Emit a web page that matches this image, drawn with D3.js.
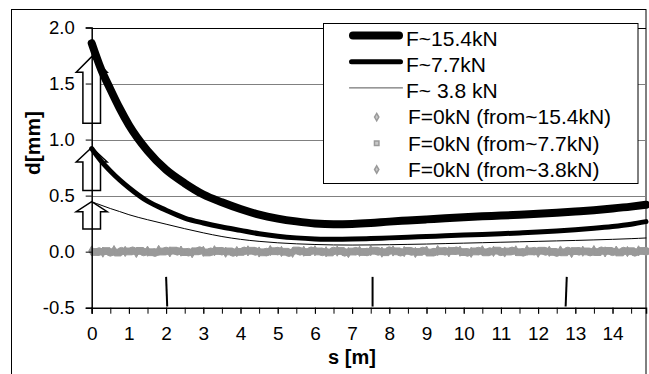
<!DOCTYPE html>
<html>
<head>
<meta charset="utf-8">
<script src="https://cdn.jsdelivr.net/npm/d3@7"></script>
<style>
  body { margin: 0; background: #fff; }
  text { font-family: "Liberation Sans", Arial, sans-serif; fill: #000; }
</style>
</head>
<body>
<div id="chart"></div>
<script>
// deflection d [mm] along s [m]
const sCurve = [0, 0.25, 0.5, 0.75, 1, 1.5, 2, 2.5, 3, 3.5, 4, 4.5, 5, 5.5, 6, 6.5, 7, 7.5, 8, 8.5, 9, 9.5, 10, 10.5, 11, 11.5, 12, 12.5, 13, 13.5, 14, 14.5, 14.9];
const d154 = [1.86, 1.63, 1.45, 1.28, 1.13, 0.9, 0.73, 0.61, 0.51, 0.44, 0.38, 0.33, 0.295, 0.27, 0.252, 0.245, 0.247, 0.255, 0.268, 0.278, 0.288, 0.298, 0.307, 0.315, 0.322, 0.33, 0.338, 0.347, 0.358, 0.37, 0.385, 0.402, 0.418];
const d77 = [0.92, 0.81, 0.72, 0.64, 0.57, 0.45, 0.37, 0.30, 0.256, 0.22, 0.19, 0.16, 0.138, 0.123, 0.114, 0.11, 0.112, 0.117, 0.123, 0.129, 0.135, 0.142, 0.148, 0.154, 0.16, 0.167, 0.175, 0.184, 0.195, 0.208, 0.224, 0.245, 0.268];
const d38 = [0.445, 0.415, 0.385, 0.358, 0.33, 0.285, 0.245, 0.205, 0.168, 0.135, 0.11, 0.092, 0.079, 0.07, 0.064, 0.06, 0.059, 0.06, 0.062, 0.065, 0.068, 0.072, 0.076, 0.08, 0.084, 0.088, 0.092, 0.096, 0.1, 0.105, 0.11, 0.116, 0.122];

// unloaded readings (F=0kN), sampled every 0.3 m, offset per series
const z154 = [0.006,-0.004,0.009,0.002,-0.007,0.004,0.011,-0.002,0.005,-0.009,
              0.003,0.008,-0.005,0.001,0.007,-0.003,0.010,0.002,-0.006,0.004,
              0.008,-0.001,0.005,-0.008,0.003,0.009,-0.004,0.006,0.001,-0.007,
              0.005,0.010,-0.002,0.004,-0.006,0.008,0.002,-0.003,0.007,0.011,
              -0.005,0.003,0.006,-0.008,0.004,0.009,-0.002,0.005,0.001,0.007];
const z77 = [-0.003,0.005,-0.008,0.002,0.007,-0.005,0.001,0.009,-0.004,0.003,
             -0.007,0.006,0.002,-0.002,0.008,-0.006,0.004,-0.001,0.010,-0.004,
             0.002,-0.007,0.006,0.001,-0.003,0.008,-0.005,0.003,0.007,-0.002,
             -0.008,0.004,0.006,-0.004,0.002,-0.006,0.009,0.001,-0.005,0.003,
             0.008,-0.002,-0.006,0.005,0.002,-0.004,0.007,-0.007,0.004,0.006];
const z38 = [0.001,-0.006,0.004,0.008,-0.003,-0.008,0.006,0.003,-0.005,0.009,
             -0.001,0.004,-0.007,0.007,0.002,-0.004,0.005,-0.009,0.003,0.008,
             -0.002,0.006,-0.006,0.004,-0.003,0.002,0.009,-0.005,0.001,0.006,
             -0.004,0.003,0.008,-0.007,0.005,0.001,-0.002,0.007,-0.006,0.004,
             0.002,-0.008,0.006,0.003,-0.004,0.008,-0.001,0.005,-0.006,0.003];
const zOffset = [0, 0.1, 0.2];
const zStep = 0.3;

// block arrows at s=0 (tip, head base, tail in mm)
const arrowTip  = [1.74, 0.93, 0.446];
const arrowHead = [1.60, 0.80, 0.357];
const arrowTail = [1.146, 0.545, 0.203];

// short vertical markers below the curves
const markTop = [2.0, 7.55, 12.77];
const markBot = [2.03, 7.55, 12.74];
const markV = [-0.225, -0.49];

const yTicks = [-0.5, 0, 0.5, 1.0, 1.5, 2.0];
const xTicks = d3.range(0, 15);
const xMinor = d3.range(0, 15, 0.5);
const legendNames = ["F~15.4kN", "F~7.7kN", "F~ 3.8 kN", "F=0kN (from~15.4kN)", "F=0kN (from~7.7kN)", "F=0kN (from~3.8kN)"];

const W = 649, H = 374;
const svg = d3.select("#chart").append("svg").attr("width", W).attr("height", H);

const x = d3.scaleLinear().domain([0, 14.9]).range([91.7, 646]);
const y = d3.scaleLinear().domain([-0.5, 2.0]).range([307.7, 27.5]);

// chart border
svg.append("rect").attr("x", 11.5).attr("y", 9.5).attr("width", 634.5).attr("height", 420)
  .attr("fill", "#fff").attr("stroke", "#000").attr("stroke-width", 1);

// gridlines
svg.append("g").selectAll("line").data([0.5, 1.0, 1.5, 2.0]).join("line")
  .attr("x1", x(0)).attr("x2", x(14.9))
  .attr("y1", d => Math.round(y(d)) + 0.5).attr("y2", d => Math.round(y(d)) + 0.5)
  .attr("stroke", d => d === 2.0 ? "#000" : "#808080").attr("stroke-width", 1);

// unloaded readings
const zSeries = [
  {vals: z154, sym: d3.symbolDiamond, size: 30},
  {vals: z77, sym: d3.symbolSquare, size: 46},
  {vals: z38, sym: d3.symbolCircle, size: 46}
];
zSeries.forEach((ser, k) => {
  svg.append("g").selectAll("path").data(ser.vals).join("path")
    .attr("transform", (d, i) => `translate(${x(zOffset[k] + i * zStep)},${y(d)})`)
    .attr("d", d3.symbol().type(ser.sym).size(ser.size))
    .attr("fill", "#999").attr("stroke", "#999").attr("stroke-width", 1);
});

// block arrows
const headHalf = 15.5, shaftHalf = 8.8;
svg.append("g").selectAll("path").data(arrowTip).join("path")
  .attr("d", (d, i) => {
    const cx = x(0), t = y(d), hb = y(arrowHead[i]), tl = y(arrowTail[i]);
    return `M${cx},${t}L${cx + headHalf},${hb}L${cx + shaftHalf},${hb}L${cx + shaftHalf},${tl}` +
           `L${cx - shaftHalf},${tl}L${cx - shaftHalf},${hb}L${cx - headHalf},${hb}Z`;
  })
  .attr("fill", "#fff").attr("stroke", "#000").attr("stroke-width", 1.5).attr("stroke-linejoin", "miter");

// curves
const line = d3.line().x((d, i) => x(sCurve[i])).y(d => y(d)).curve(d3.curveMonotoneX);
const curves = [
  {vals: d154, w: 8},
  {vals: d77, w: 5},
  {vals: d38, w: 1}
];
svg.append("g").selectAll("path").data(curves).join("path")
  .attr("d", d => line(d.vals))
  .attr("fill", "none").attr("stroke", "#000")
  .attr("stroke-width", d => d.w).attr("stroke-linecap", "round");

// short markers
svg.append("g").selectAll("line").data(markTop).join("line")
  .attr("x1", d => x(d)).attr("y1", y(markV[0]))
  .attr("x2", (d, i) => x(markBot[i])).attr("y2", y(markV[1]))
  .attr("stroke", "#000").attr("stroke-width", 2);

// y axis
const yAxis = svg.append("g").attr("transform", `translate(${x(0)},0)`)
  .call(d3.axisLeft(y).tickValues(yTicks).tickSize(6).tickPadding(11).tickFormat(d => d.toFixed(1)));
yAxis.selectAll("text").attr("font-size", 18.5).attr("font-family", "Liberation Sans, Arial, sans-serif");

// x axis
const xAxis = svg.append("g").attr("transform", `translate(0,${y(-0.5)})`)
  .call(d3.axisBottom(x).tickValues(xTicks).tickSize(6).tickPadding(13).tickFormat(d => d));
xAxis.selectAll("text").attr("font-size", 19).attr("font-family", "Liberation Sans, Arial, sans-serif");
svg.append("g").attr("transform", `translate(0,${y(-0.5)})`)
  .call(d3.axisBottom(x).tickValues(xMinor).tickSize(6).tickFormat(""))
  .select(".domain").remove();
[yAxis, xAxis].forEach(a => {
  a.select(".domain").attr("stroke", "#000").attr("stroke-width", 1.5);
});
svg.selectAll(".tick line").attr("stroke", "#000").attr("stroke-width", 1);

// axis titles
svg.append("text").attr("x", 352).attr("y", 364).attr("text-anchor", "middle")
  .attr("font-size", 20).attr("font-weight", "bold").text("s [m]");
svg.append("text").attr("transform", "translate(40,143) rotate(-90)").attr("text-anchor", "middle")
  .attr("font-size", 21).attr("font-weight", "bold").text("d[mm]");

// legend
const lg = svg.append("g");
lg.append("rect").attr("x", 323.5).attr("y", 23.5).attr("width", 314.5).attr("height", 160)
  .attr("fill", "#fff").attr("stroke", "#000").attr("stroke-width", 1);
const rowY = i => 38.5 + i * 26.2;
curves.forEach((c, i) => {
  lg.append("line").attr("x1", 349 + c.w / 2).attr("x2", 403 - c.w / 2)
    .attr("y1", rowY(i) - 3).attr("y2", rowY(i) - 3)
    .attr("stroke", c.w === 1 ? "#555" : "#000").attr("stroke-width", c.w).attr("stroke-linecap", "round");
});
const legSyms = [d3.symbolDiamond, d3.symbolSquare, d3.symbolDiamond];
legSyms.forEach((s, k) => {
  lg.append("path").attr("transform", `translate(376.7,${rowY(k + 3)})`)
    .attr("d", d3.symbol().type(s).size(k === 1 ? 20 : 16))
    .attr("fill", "#c8c8c8").attr("stroke", "#9a9a9a").attr("stroke-width", 1.5);
});
lg.selectAll("text").data(legendNames).join("text")
  .attr("x", (d, i) => i < 3 ? 406 : 408).attr("y", (d, i) => rowY(i)).attr("dy", "0.35em")
  .attr("font-size", 21).text(d => d);
</script>
</body>
</html>
